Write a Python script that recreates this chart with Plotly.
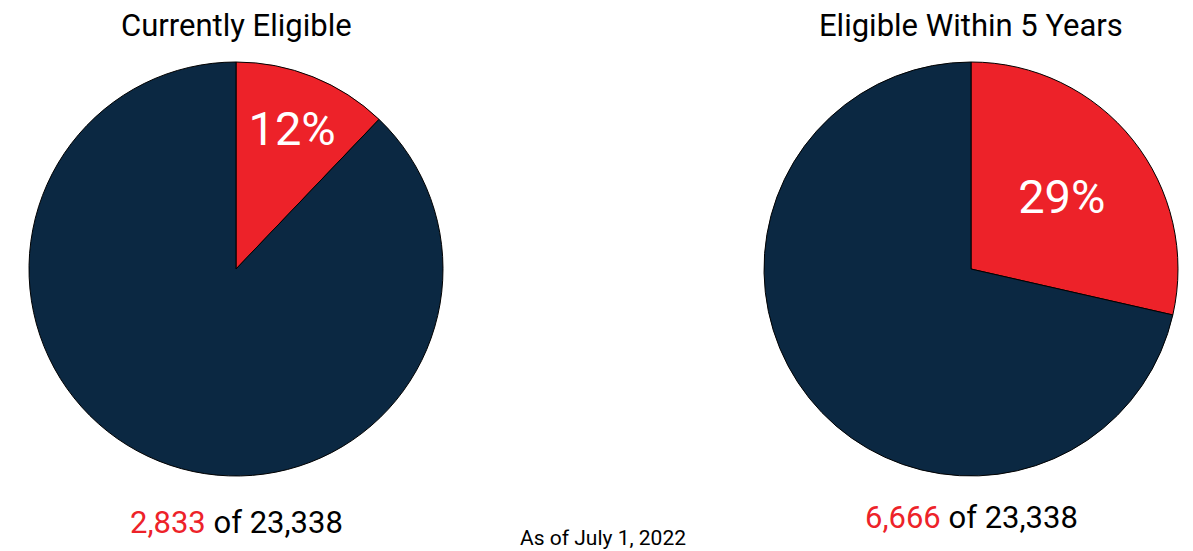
import plotly.graph_objects as go

titles = ["Currently Eligible", "Eligible Within 5 Years"]
eligible = [2833, 6666]
total = [23338, 23338]
slice_names = ["Eligible", "Not eligible"]
note = "As of July 1, 2022"

RED = "#ED2229"
NAVY = "#0B2842"
W, H = 1193, 551

fig = go.Figure()

centers = [236, 971]
cy = 269
r = 207
sub_y = [522, 517]

for i in range(2):
    cx = centers[i]
    vals = [eligible[i], total[i] - eligible[i]]
    fig.add_trace(go.Pie(
        labels=slice_names,
        values=vals,
        sort=False,
        direction="clockwise",
        rotation=0,
        marker=dict(colors=[RED, NAVY], line=dict(color="#000000", width=1)),
        texttemplate=["%{percent:.0%}", ""],
        textposition="inside",
        insidetextorientation="horizontal",
        textfont=dict(family="Roboto", size=47, color="white"),
        hoverinfo="label+value+percent",
        showlegend=False,
        domain=dict(x=[(cx - r) / W, (cx + r) / W], y=[1 - (cy + r) / H, 1 - (cy - r) / H]),
    ))
    fig.add_annotation(
        text=titles[i], x=cx / W, y=1 - 25 / H, xref="paper", yref="paper",
        showarrow=False, font=dict(family="Roboto", size=31, color="#000000"),
        xanchor="center", yanchor="middle",
    )
    fig.add_annotation(
        text=f"<span style='color:{RED}'>{eligible[i]:,}</span> of {total[i]:,}",
        x=cx / W, y=1 - sub_y[i] / H, xref="paper", yref="paper",
        showarrow=False, font=dict(family="Roboto", size=31, color="#000000"),
        xanchor="center", yanchor="middle",
    )

fig.add_annotation(
    text=note, x=603 / W, y=1 - 538 / H, xref="paper", yref="paper",
    showarrow=False, font=dict(family="Roboto", size=21, color="#000000"),
    xanchor="center", yanchor="middle",
)

fig.update_layout(
    width=W, height=H,
    margin=dict(l=0, r=0, t=0, b=0),
    paper_bgcolor="white", plot_bgcolor="white",
    uniformtext=dict(minsize=47, mode="show"),
)

fig.write_html("out.html")
